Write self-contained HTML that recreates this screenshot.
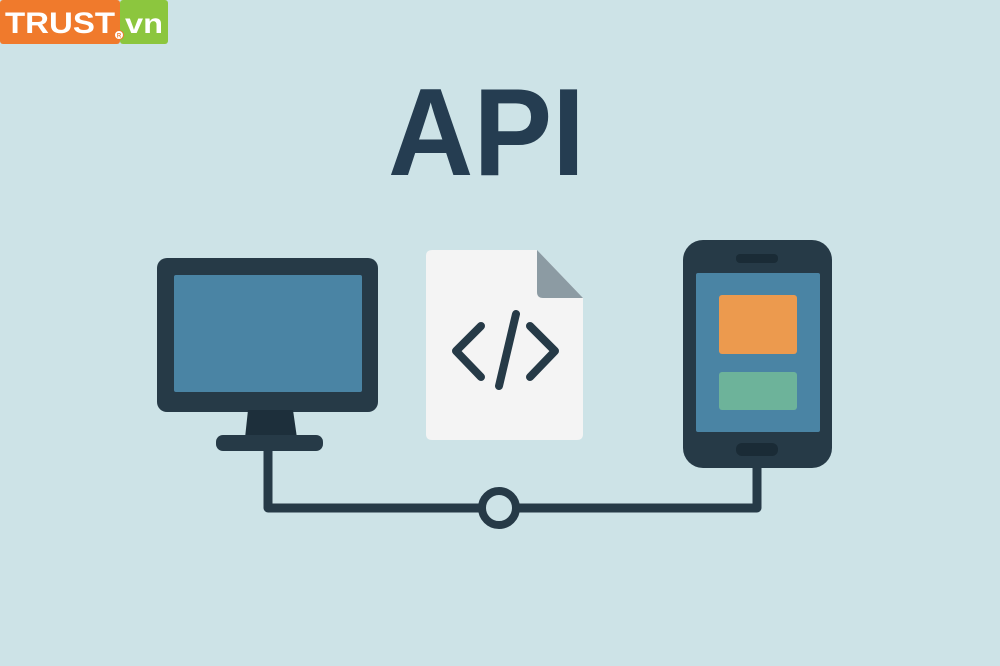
<!DOCTYPE html>
<html><head><style>
html,body{margin:0;padding:0;}
body{width:1000px;height:666px;background:#cde3e7;overflow:hidden;position:relative;font-family:"Liberation Sans",sans-serif;}
</style></head><body>
<svg width="1000" height="666" viewBox="0 0 1000 666" style="position:absolute;left:0;top:0">
<rect width="1000" height="666" fill="#cde3e7"/>
<!-- logo -->
<rect x="0" y="0" width="120" height="44" fill="#f07a2c" rx="3"/>
<rect x="120" y="0" width="48" height="44" fill="#8cc63e" rx="3"/>
<text x="5" y="33" font-family="Liberation Sans" font-weight="bold" font-size="30" fill="#fff" textLength="110" lengthAdjust="spacingAndGlyphs">TRUST</text>
<circle cx="119" cy="35" r="4.5" fill="#fff" stroke="#f07a2c" stroke-width="1"/>
<text x="119" y="37.5" font-size="6" text-anchor="middle" fill="#f07a2c" font-weight="bold">R</text>
<text x="125" y="33" font-family="Liberation Sans" font-weight="bold" font-size="28" fill="#fff" textLength="38" lengthAdjust="spacingAndGlyphs">vn</text>
<!-- title -->
<text x="388" y="175" font-family="Liberation Sans" font-weight="bold" font-size="124" fill="#253d51" textLength="197" lengthAdjust="spacingAndGlyphs">API</text>
<!-- connectors -->
<path d="M268 445 V508 H757 V460" fill="none" stroke="#263a47" stroke-width="9" stroke-linejoin="round"/>
<circle cx="499" cy="508" r="17" fill="#cde3e7" stroke="#263a47" stroke-width="8"/>
<!-- monitor -->
<rect x="157" y="258" width="221" height="154" rx="10" fill="#263a47"/>
<rect x="174" y="275" width="188" height="117" rx="2" fill="#4a84a4"/>
<polygon points="248,410 293,410 297,438 245,438" fill="#1d2f3b"/>
<rect x="216" y="435" width="107" height="16" rx="7" fill="#263a47"/>
<!-- document -->
<path d="M432 250 H537 L583 298 V434 Q583 440 577 440 H432 Q426 440 426 434 V256 Q426 250 432 250 Z" fill="#f4f4f4"/>
<path d="M537 250 L583 298 H543 Q537 298 537 292 Z" fill="#8c9ba3"/>
<g fill="none" stroke="#263a47" stroke-width="8" stroke-linecap="round" stroke-linejoin="round">
<polyline points="481,326 456,351 481,377"/>
<polyline points="530,326 555,351 530,377"/>
<line x1="516" y1="314" x2="499" y2="386"/>
</g>
<!-- phone -->
<rect x="683" y="240" width="149" height="228" rx="20" fill="#263a47"/>
<rect x="696" y="273" width="124" height="159" rx="2" fill="#4a84a4"/>
<rect x="736" y="254" width="42" height="9" rx="4" fill="#1a2b36"/>
<rect x="736" y="443" width="42" height="13" rx="6" fill="#1a2b36"/>
<rect x="719" y="295" width="78" height="59" rx="3" fill="#ec9a4e"/>
<rect x="719" y="372" width="78" height="38" rx="3" fill="#6db39a"/>
</svg>
</body></html>
